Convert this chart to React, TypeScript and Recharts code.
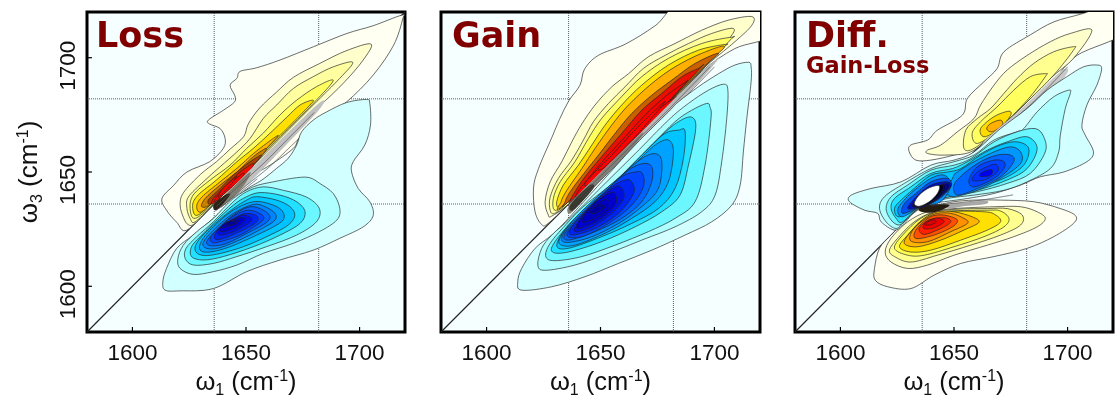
import { ScatterChart, Scatter, XAxis, YAxis, ReferenceLine, ReferenceArea } from 'recharts';

type Contour = number[][];

// contours are [w1, w3] vertices in cm-1, outermost level first
const lossWarm: Contour[] = [
  [[1718.5,1718.6],[1706,1714],[1694.4,1710.6],[1679.7,1704.8],[1665,1699],[1654.7,1695.6],[1647.4,1694],[1646,1691],[1643,1688],[1645,1683.6],[1645,1680.7],[1640,1677],[1633.4,1672.7],[1634,1671],[1638.6,1669],[1640.8,1664.7],[1640,1660.3],[1634,1654.5],[1624,1650],[1618,1644],[1613,1638.4],[1615,1633.3],[1619.5,1628],[1624,1624.6],[1635.6,1636],[1650.3,1647],[1660.6,1653],[1670.8,1660.3],[1673.8,1665.4],[1682.6,1672.7],[1694.3,1680.7],[1706,1692.4],[1715,1705.5],[1719,1717]],
  [[1705,1706],[1694,1703],[1682.5,1697.5],[1671,1691.5],[1663.5,1685],[1656,1678],[1651,1671],[1649,1665.5],[1643,1660],[1637,1654.5],[1630,1649],[1622.5,1641],[1621,1635.5],[1622.5,1630],[1624.5,1627],[1627.5,1627.5],[1635.5,1635.5],[1646,1644],[1654.7,1653],[1665,1663],[1674,1672],[1682.5,1679],[1693,1689],[1701.6,1699]],
  [[1697,1698],[1688.4,1696],[1679.6,1691.7],[1670.8,1686.5],[1663.5,1679.3],[1657.6,1673.4],[1651.8,1664.7],[1646,1658.8],[1638.6,1652.3],[1631.2,1645.7],[1624.6,1639],[1624,1634],[1625.4,1629.7],[1627.6,1628.2],[1635.6,1635.8],[1650.3,1650],[1665,1664.7],[1679.6,1679.3],[1691.3,1691]],
  [[1688.4,1690],[1681,1687.3],[1672.3,1681.4],[1665,1675],[1657.6,1667],[1650.3,1660.3],[1643,1653],[1634.2,1646.5],[1626.8,1640],[1625.4,1634],[1627.6,1629.7],[1635.6,1636.2],[1650.3,1650.8],[1665,1665.4],[1679.6,1680]],
  [[1679.6,1681.4],[1673.8,1679.3],[1668,1674],[1660.6,1667],[1653.2,1660.3],[1646,1654.5],[1637,1646.5],[1629,1640],[1626.5,1635.5],[1628.3,1631],[1635.6,1637],[1650.3,1651.6],[1665,1666],[1676.7,1677.8]],
  [[1664.2,1666],[1659,1662.5],[1653.2,1658],[1646,1651.6],[1638.6,1645.7],[1630.5,1639],[1628.3,1634.8],[1630.5,1632.6],[1638.6,1640],[1650.3,1651.6],[1659,1660.3]],
  [[1659,1660.3],[1653.2,1656.7],[1646,1650],[1638.6,1644.3],[1632,1638.4],[1630.5,1634.8],[1635,1636.2],[1646,1647.2],[1654.7,1654.5]],
  [[1656.9,1657.4],[1651.8,1654.5],[1644.4,1648.6],[1638.6,1642.8],[1633.4,1637.7],[1635,1636.2],[1643,1643.5],[1651.8,1651.6]],
  [[1653.2,1653.7],[1647.4,1650],[1641.5,1644.3],[1635.6,1638.4],[1635.6,1636.2],[1643,1642.8],[1651.8,1650.8]],
  [[1648.8,1649.4],[1643,1645],[1637,1639],[1636.4,1637],[1641.5,1641.4],[1648,1647.2]],
  [[1646,1648],[1640,1643],[1637.8,1639],[1642,1643]],
];

const lossCold: Contour[] = [
  [[1704.5,1680],[1703,1681.7],[1694.3,1680.4],[1685.5,1676.3],[1679.6,1672.7],[1674.5,1667.6],[1672.3,1661.8],[1668.6,1656],[1663.5,1651.6],[1657,1646.5],[1648.8,1641.4],[1635.6,1629.7],[1626.8,1622.4],[1619.5,1616.6],[1615,1607.8],[1613.4,1602],[1614.4,1598.3],[1621,1598],[1635.6,1599],[1650.3,1606.4],[1665,1611.5],[1679.6,1615.8],[1691.3,1621],[1701.6,1626],[1706,1631],[1704.5,1637],[1699.4,1642.8],[1696.5,1650],[1697.2,1654.5],[1702.3,1661.8],[1704.8,1670.5]],
  [[1672.3,1647.5],[1678,1647.5],[1682.5,1645],[1688.4,1640.6],[1691.3,1634],[1690,1629],[1682.5,1624],[1670.8,1618.8],[1657.6,1614.4],[1646,1609.3],[1635.6,1606.4],[1626.8,1605.2],[1621,1607.8],[1620,1612],[1622.4,1618],[1628.3,1623.9],[1635.6,1629.7],[1644.4,1638.4],[1653.2,1643.5],[1662,1645.7]],
  [[1657.6,1643.5],[1666.4,1642],[1676.7,1639],[1682.3,1634],[1681,1628.2],[1672.3,1622.4],[1659,1617.3],[1646,1613],[1635.6,1610],[1626.8,1609.3],[1623.2,1612.2],[1623.6,1616.6],[1628.3,1621.7],[1635.6,1628.2],[1644.4,1637],[1650.3,1641.4]],
  [[1656.2,1641],[1665,1639.9],[1672.3,1637],[1676,1632.6],[1673.8,1627.5],[1665,1622.4],[1653.2,1617.3],[1640,1613],[1631.2,1611.5],[1626,1613],[1626,1617.3],[1629.8,1621.7],[1635.6,1627.5],[1644.4,1635.5],[1650.3,1639.2]],
  [[1654.7,1639.2],[1663.5,1637.7],[1669.4,1634.8],[1671.5,1631],[1668.6,1626.8],[1660.6,1622.4],[1648.8,1617.3],[1637,1614],[1630.5,1613.6],[1627.6,1615.8],[1629,1620],[1635.6,1626.8],[1644.4,1634],[1650.3,1637.7]],
  [[1653.2,1637],[1660.6,1636],[1665.7,1633.3],[1666.7,1629.7],[1663.5,1626.8],[1654.7,1622.4],[1643,1617.3],[1634.2,1615],[1629.8,1615.8],[1630.5,1620],[1635.6,1626],[1644.4,1633.3]],
  [[1653.2,1635.8],[1658.4,1634.8],[1662.8,1631.9],[1662.8,1629],[1658.4,1626],[1648.8,1621],[1638.6,1616.9],[1632.7,1616.6],[1631.2,1619.2],[1636.4,1625.3],[1644.4,1631.9]],
  [[1651.8,1634.8],[1657.6,1633.3],[1660.6,1630.4],[1658.4,1627.5],[1651.8,1623.9],[1641.5,1618.8],[1634.9,1617.7],[1632.7,1619.5],[1637,1624.6],[1644.4,1631.2]],
  [[1651,1633.3],[1656,1631.9],[1657.9,1629.7],[1654.7,1626.8],[1647.4,1622.4],[1638.6,1619.5],[1634.9,1619.2],[1634.5,1621.7],[1638.6,1626],[1645.2,1631.2]],
  [[1650.3,1631.9],[1654.7,1630.8],[1654.7,1628.2],[1648.8,1624.6],[1640,1620.9],[1636.4,1620.6],[1636.4,1623.1],[1640,1626.8],[1645.9,1630.4]],
  [[1648.8,1631.2],[1652.5,1629.7],[1651,1627.5],[1644.4,1623.9],[1638.6,1622.4],[1637.4,1623.9],[1640,1626.8],[1645.2,1629.7]],
  [[1647.4,1630],[1649.6,1629],[1645.9,1626],[1640,1623.9],[1638.3,1625],[1641.5,1627.9]],
  [[1645.9,1629],[1646.6,1628.2],[1643,1626.5],[1639.3,1625.6],[1640,1627],[1643,1628.5]],
  [[1643.5,1628.5],[1646,1627.8],[1643.5,1626.8],[1640.8,1627.2]],
];

const lossBand: Contour[] = [
  [[1638,1637],[1660,1659],[1682,1680],[1682,1677],[1662,1656],[1648,1642],[1638,1634]],
  [[1637,1636],[1646,1645],[1652,1650],[1649,1644],[1642,1637],[1637,1633.5]],
  [[1636,1636],[1641,1640],[1643,1640],[1638,1634],[1636,1633.5]],
];
const lossGap: Contour[] = [
  [[1637,1635],[1648,1645],[1658,1654],[1668,1664],[1680,1676],[1668,1664],[1658,1654],[1648,1645]],
  [[1639,1634.5],[1650,1644],[1660,1652],[1670,1661.5],[1684,1674.5],[1670,1661.5],[1660,1652],[1650,1644]],
  [[1636.5,1633],[1646,1640],[1655,1647],[1646,1640]],
];

const gainWarm: Contour[] = [
  [[1688,1725],[1674,1714],[1661,1706],[1649,1701],[1643,1695],[1641,1688],[1636,1681],[1632,1673],[1628.6,1665],[1622.8,1651.5],[1620.6,1643],[1621.3,1632.5],[1624.2,1627],[1627,1627.5],[1636,1636],[1650.5,1650.4],[1665.2,1664.7],[1679.8,1679],[1694.4,1694],[1709,1704],[1725,1710],[1725,1725]],
  [[1716.4,1718],[1706,1716.4],[1694.4,1712],[1682.7,1706.2],[1671,1700.4],[1662.3,1693],[1655,1687.3],[1647.6,1679.3],[1641.8,1671],[1637.4,1663.2],[1633,1654.5],[1627.9,1645.7],[1625.7,1637],[1627.1,1631.2],[1628.6,1630.7],[1635.9,1636],[1650.5,1650.4],[1665.2,1664.7],[1679.8,1679],[1694.4,1694.6],[1709,1707],[1716.4,1714.2]],
  [[1708.3,1712.8],[1698.8,1710.6],[1688.6,1706.2],[1678.3,1701],[1668.8,1695.3],[1660.8,1687.3],[1653.5,1680],[1646.9,1672],[1642.5,1664],[1637.4,1655.2],[1631.5,1647.2],[1627.9,1639],[1627.9,1633.3],[1629.8,1631.9],[1635.9,1636],[1650.5,1650.5],[1665.2,1665],[1679.8,1679.3],[1694.4,1694.6],[1706,1707.7]],
  [[1707.6,1709],[1694.4,1706.2],[1679.8,1699.7],[1668.1,1691.7],[1659.3,1683],[1650.5,1673.4],[1644.7,1664.7],[1638.8,1654.5],[1632.3,1645.7],[1629.3,1638.4],[1630,1633.3],[1635.9,1637],[1665.2,1665.4],[1694.4,1694.6],[1706.9,1707.7]],
  [[1704.7,1705.8],[1693,1703.3],[1679.8,1696.8],[1668.1,1688],[1659.3,1679.3],[1652,1670.5],[1646.2,1661.8],[1640.3,1653],[1633.7,1644.3],[1630.8,1637],[1631.8,1634.4],[1635.9,1637],[1665.2,1665.4],[1694.4,1695.3],[1704.4,1704.8]],
  [[1704.4,1704.8],[1694.4,1701.9],[1682.7,1696],[1672.5,1688.7],[1662.3,1679.3],[1654.9,1670.5],[1647.6,1660.3],[1641.8,1651.5],[1635.2,1642],[1632.7,1637],[1633.7,1635.5],[1665.2,1666],[1694.4,1695.3]],
  [[1701.8,1701.9],[1691.5,1697.5],[1681.3,1690.2],[1672.5,1683.6],[1663.7,1675.6],[1656.4,1666.9],[1649.1,1657.4],[1643.2,1650],[1636.7,1641.4],[1634.5,1637],[1635.9,1637],[1665.2,1665.8],[1694.4,1695]],
  [[1693,1695.3],[1685.7,1691.7],[1676.9,1684.4],[1668.1,1677],[1659.3,1666.9],[1650.5,1656.7],[1643.2,1647.9],[1637.4,1639],[1638.8,1639],[1665.2,1665.4],[1693,1694.6]],
  [[1686.4,1688.7],[1678.3,1682.9],[1669.6,1674.9],[1660.8,1665.4],[1652,1655.9],[1644.7,1647.2],[1639.6,1640.6],[1641.8,1641.4],[1665.2,1665],[1686.4,1688]],
  [[1682,1682.2],[1674,1676.3],[1665.2,1668.3],[1656.4,1658.8],[1647.6,1650],[1643.2,1645],[1646.2,1645.7],[1665.2,1664.7],[1682,1681.4]],
  [[1678.3,1680.7],[1671,1674.2],[1663.7,1666.9],[1655,1657.4],[1649.1,1651.5],[1652,1652.3],[1665.2,1665.4]],
];

const gainCold: Contour[] = [
  [[1715,1698],[1709,1696.8],[1701.8,1693],[1693,1687.3],[1684.2,1680.7],[1679.8,1676.3],[1665.2,1661.8],[1650.5,1645.7],[1635.9,1629.7],[1628.6,1622.4],[1621.3,1616.6],[1615.4,1607.8],[1613.7,1602],[1615.4,1598.3],[1628.6,1599.8],[1643.2,1604.2],[1657.9,1610],[1672.5,1615.8],[1687.1,1622.4],[1698.8,1628.2],[1707.6,1635.5],[1711.3,1644.3],[1712.7,1658.8],[1714.2,1673.4],[1716.1,1689.5],[1716.1,1696]],
  [[1704,1688.4],[1697.4,1685.8],[1688.6,1680],[1679.8,1672.7],[1665.2,1658],[1650.5,1643.5],[1635.9,1629],[1628.6,1622.4],[1624.2,1616.6],[1622.5,1609.3],[1625.7,1607],[1638.8,1609.3],[1653.5,1614.4],[1668.1,1620.2],[1682.7,1626],[1694.4,1632.6],[1700.3,1639.9],[1703.2,1654.5],[1705.4,1673.4],[1705.9,1685.8]],
  [[1696.6,1680],[1690,1677],[1682.7,1672],[1672.5,1661.8],[1657.9,1647.2],[1643.2,1635.5],[1635.9,1628.2],[1627.9,1618.8],[1626,1613],[1630,1611.2],[1641.8,1613],[1656.4,1618],[1671,1623.9],[1682.7,1629.7],[1691.5,1637],[1695.9,1653],[1698.5,1673.4],[1698,1678.5]],
  [[1690,1674],[1684.2,1672],[1676.9,1666.1],[1665.2,1654.5],[1650.5,1639.9],[1638.8,1629.7],[1630,1619.5],[1628.9,1615],[1635.9,1615],[1650.5,1619.5],[1665.2,1626],[1676.9,1632.6],[1684.9,1639.9],[1688.6,1653],[1691.8,1669]],
  [[1684.2,1668.3],[1678.3,1666.9],[1671,1660.3],[1659.3,1648.6],[1646.2,1635.5],[1635.9,1626.8],[1630.8,1618],[1635.9,1616.6],[1650.5,1621.7],[1663.7,1627.5],[1675.4,1634],[1682.7,1642.8],[1686.4,1656],[1687.1,1667.9]],
  [[1679.8,1664],[1674,1661.8],[1665.2,1653.7],[1653.5,1643],[1641.8,1632.6],[1633,1622.4],[1632.3,1618.3],[1638.8,1618],[1652,1623.2],[1663.7,1629.7],[1673.9,1637],[1679.8,1645.7],[1682,1658.8]],
  [[1674,1658],[1668.1,1655.9],[1659.3,1648.6],[1647.6,1638.4],[1637.4,1628.2],[1633,1621],[1635.9,1619.2],[1646.2,1621.7],[1657.9,1627.5],[1668.1,1634.8],[1675.4,1642.8],[1676.9,1654.5]],
  [[1668.8,1653.7],[1662.3,1650.8],[1652,1641.4],[1641.8,1631.9],[1634.5,1623.2],[1635.9,1620.2],[1647.6,1623.9],[1659.3,1629.7],[1668.1,1637],[1672.5,1645.7],[1672.5,1652.3]],
  [[1665.2,1650],[1659.3,1647.9],[1650.5,1639.9],[1640.3,1629.7],[1635.2,1622.4],[1641.8,1621.7],[1653.5,1627.5],[1663.7,1635.5],[1668.8,1643.5],[1668.4,1649.4]],
  [[1660.8,1646.5],[1654.9,1643.5],[1646.2,1635.5],[1637.4,1626],[1637.4,1622.4],[1647.6,1625.3],[1657.9,1631.9],[1664.5,1640.6],[1663.7,1645.7]],
  [[1656.4,1643.5],[1649.1,1637.7],[1640.3,1628.2],[1638.8,1623.9],[1646.2,1626],[1654.9,1631.9],[1660.1,1638.4],[1659.3,1642.8]],
  [[1653.5,1640.6],[1646.2,1635.5],[1640.3,1628.2],[1640.3,1625.3],[1649.1,1629],[1656.4,1635.5],[1656.4,1640.6]],
  [[1651.3,1637.7],[1644.7,1633.3],[1641.8,1628.2],[1647.6,1629.7],[1653.5,1634],[1653.5,1637.7]],
  [[1649.1,1635.5],[1645.4,1632.6],[1647.6,1631.9],[1652,1634.8]],
];

const gainBand: Contour[] = [
  [[1638,1637.5],[1665,1664.5],[1690,1689.5],[1702,1700],[1690,1686],[1665,1661],[1645,1641],[1637,1633]],
  [[1637,1636.5],[1650,1649.5],[1668,1667],[1664,1660.5],[1648,1644],[1637,1632]],
  [[1637,1636],[1645,1644],[1647,1643],[1640,1635],[1637,1633]],
];
const gainGap: Contour[] = [
  [[1640,1638.2],[1660,1658],[1680,1677.5],[1698,1696],[1680,1677.5],[1660,1658]],
  [[1642,1638.6],[1660,1656],[1680,1675.5],[1700,1696],[1680,1675.5],[1660,1656]],
];

const diffWarmUpper: Contour[] = [
  [[1707,1719.4],[1694,1715.7],[1683.6,1710],[1672,1702.6],[1669,1695.3],[1663.2,1689.5],[1655.9,1682.2],[1653.7,1674.9],[1642.7,1668.3],[1638.4,1664],[1631,1661.8],[1630.3,1658.8],[1633.2,1655.2],[1639.8,1655.2],[1650,1657.4],[1658.8,1660.3],[1667.6,1666.9],[1676.3,1673.4],[1685.1,1682.2],[1693.9,1690],[1704.1,1701],[1725,1711],[1725,1725]],
  [[1710.7,1712],[1701.2,1710.6],[1692.4,1707],[1682.2,1701],[1673.4,1694.6],[1667.6,1688],[1661.7,1679.3],[1658.8,1673.4],[1651.5,1667.6],[1644.2,1661.8],[1638.4,1659.6],[1638.4,1658.1],[1645.7,1657.4],[1657.4,1658.8],[1667.6,1666.9],[1679.3,1677.8],[1692.4,1690.9],[1702.6,1699.7]],
  [[1702.6,1704.8],[1693.9,1702.6],[1685.1,1697.5],[1677.8,1690.9],[1672,1684.4],[1666.1,1677.8],[1660.3,1673.4],[1655.2,1668.3],[1654.4,1660.3],[1658.8,1660.3],[1669,1668.3],[1682.2,1680.7],[1693.9,1692.4],[1702.6,1703.3]],
  [[1690.2,1693],[1683.6,1691.7],[1676.3,1685.8],[1669,1678.5],[1661.7,1672],[1658,1666.9],[1660.3,1662.5],[1669,1668.3],[1682.2,1681.4],[1690.2,1691.7]],
  [[1674.2,1676.6],[1667.6,1674.2],[1661.7,1669],[1663.2,1665.4],[1669,1668.3],[1674.6,1674.2]],
  [[1670.5,1672.7],[1666.1,1671.2],[1664.4,1668.8],[1666.9,1667.6],[1671.2,1670.5]],
];

const diffWarmLower: Contour[] = [
  [[1658.8,1637.7],[1670.5,1637.7],[1685.1,1637],[1696.8,1634],[1703.4,1631],[1702.6,1627.5],[1693.9,1621.7],[1682.2,1616.6],[1667.6,1613],[1653,1610],[1641.3,1604.9],[1631,1599],[1620.8,1599.8],[1615.3,1602.7],[1615,1607.8],[1617.2,1616.6],[1622.3,1622.4],[1629.6,1629.7],[1635.4,1634],[1642.7,1635.5],[1650,1637]],
  [[1667.6,1634.8],[1679.3,1634.8],[1686.6,1632.6],[1690.2,1629.7],[1686.6,1626],[1676.3,1621.7],[1664.7,1618],[1650,1613.6],[1638.4,1609.3],[1629.6,1607.8],[1622.3,1610.6],[1619.7,1615],[1622.3,1621],[1629.6,1628.2],[1638.4,1632.6],[1650,1634]],
  [[1664.7,1634],[1673.4,1634],[1680,1631.2],[1679.3,1626.8],[1670.5,1622.4],[1657.4,1618],[1642.7,1613.6],[1631,1610.6],[1623.8,1613],[1621.6,1615.8],[1625.2,1621],[1632.5,1628.2],[1641.3,1632.6],[1653,1633.8]],
  [[1664.7,1633.3],[1670.5,1632.9],[1674.2,1629.7],[1672,1626],[1663.2,1621.7],[1650,1617.3],[1636.9,1613.6],[1629.6,1613.6],[1623.8,1616.6],[1627.4,1622.4],[1635.4,1629.7],[1644.2,1632.6]],
  [[1663.2,1632.6],[1668.3,1631.2],[1670.5,1628.2],[1664.7,1624.6],[1653,1620.2],[1639.8,1615.8],[1631,1615],[1626,1617.3],[1629.6,1622.4],[1636.9,1629.7],[1645.7,1632.6]],
  [[1650,1632.6],[1658,1630.4],[1661,1628],[1654.4,1624.6],[1644.2,1620.2],[1634,1617.3],[1628.1,1618.8],[1631,1623.9],[1636.9,1629.7],[1642.7,1632.6]],
  [[1648.6,1631.9],[1654.4,1629.7],[1655.9,1627.5],[1648.6,1623.9],[1638.4,1619.5],[1631,1619.8],[1631.8,1624.6],[1637.6,1629.7],[1642.7,1631.9]],
  [[1647.1,1630.9],[1651.5,1629],[1649.3,1626],[1641.3,1622.4],[1633.2,1620.9],[1633.2,1624.6],[1638.4,1629.7],[1642.7,1631.2]],
  [[1645.7,1630],[1648.6,1628.2],[1644.2,1625.3],[1636.9,1622.7],[1634.7,1625.3],[1639.1,1629]],
  [[1643.5,1629.7],[1645.7,1628.2],[1641.3,1625.6],[1636.6,1625.3],[1637.6,1628.2],[1641.3,1629.7]],
  [[1641.3,1629],[1642,1627.9],[1639.1,1626.8],[1637.2,1627],[1639.1,1628.5]],
];

const diffCold: Contour[] = [
  [[1712.9,1696.8],[1707,1696],[1699.7,1691.7],[1691,1685.8],[1682.2,1677.8],[1670.5,1669],[1658.8,1658.8],[1650,1655.2],[1639.8,1653],[1626.7,1645.7],[1613.5,1642.8],[1604.8,1639.9],[1604,1637],[1610.6,1633.3],[1616.4,1631.9],[1617.9,1628.2],[1623.8,1624.6],[1628.1,1627.5],[1635.4,1635.5],[1645.7,1637],[1655.9,1638.4],[1667.6,1640.6],[1679.3,1644.3],[1688,1647.9],[1698.3,1650],[1708.5,1654.5],[1711.4,1658.8],[1707.8,1666.1],[1706.3,1670.5],[1708.5,1679.3],[1712.9,1688],[1715,1695.3]],
  [[1700.5,1685.8],[1693.9,1682.9],[1686.6,1676.3],[1680.7,1669],[1677.8,1667.6],[1667.6,1664],[1658.8,1657.4],[1650,1654.5],[1639.8,1651.5],[1628.1,1645],[1619.4,1639.2],[1617.2,1634],[1620.1,1628.2],[1624.5,1625.3],[1628.1,1628.2],[1635.4,1634.8],[1647.1,1638.4],[1658.8,1639.9],[1672,1642],[1682.2,1645.7],[1692.4,1651.5],[1696.1,1658.8],[1696.8,1666.1],[1699,1677.8],[1701.2,1684.4]],
  [[1685.8,1669],[1677.8,1667.6],[1667.6,1663.2],[1657.4,1655.9],[1650,1653],[1639.8,1650.8],[1629.6,1644.3],[1622.3,1639.2],[1620.1,1634],[1622.3,1629],[1625.9,1626.8],[1629.6,1629.7],[1635.4,1634.8],[1647.1,1639],[1660.3,1641.4],[1673.4,1645],[1683.6,1649.4],[1690.2,1658.8],[1689.5,1665.4]],
  [[1682.2,1665.4],[1673.4,1663.2],[1664.7,1659.6],[1655.9,1654.5],[1649.3,1651.5],[1639.8,1649.4],[1631,1643.5],[1623.8,1638.4],[1622.3,1634],[1624.5,1629.7],[1627.4,1628.2],[1635.4,1635.5],[1647.1,1639],[1660.3,1642],[1673.4,1646.5],[1682.2,1651.5],[1686.6,1660.3]],
  [[1677.8,1663.2],[1670.5,1661.8],[1661.7,1657.4],[1653,1651.5],[1647.1,1650],[1639.8,1648.6],[1632.5,1642.8],[1626.7,1637.7],[1623.8,1634],[1626,1630.4],[1635.4,1635.5],[1647.1,1639.9],[1660.3,1643.5],[1672,1647.2],[1680.7,1653],[1682.9,1660.3]],
  [[1674.9,1661],[1667.6,1658.8],[1658.8,1654.5],[1651.5,1650],[1650,1648.6],[1647.1,1641.4],[1650,1639.2],[1660.3,1642],[1670.5,1647.2],[1679.3,1653.7],[1679.3,1658.8]],
  [[1669,1657.4],[1661.7,1654.5],[1654.4,1649.4],[1650,1644.3],[1651.5,1639.9],[1660.3,1642.8],[1670.5,1647.9],[1676.3,1654.5],[1674.9,1657.4]],
  [[1667.6,1655.2],[1660.3,1652.3],[1656.6,1646.5],[1658.8,1643.5],[1667.6,1647.2],[1672,1651.5],[1672,1654.5]],
  [[1666.1,1653],[1660.3,1650],[1658,1646.5],[1663.2,1646.5],[1669,1650],[1669,1653]],
  [[1664.7,1650.8],[1661.7,1649.4],[1661.7,1648],[1666.1,1648.6],[1666.9,1650.8]],
];

const diffCore: Contour[] = [
  [[1645.7,1648.6],[1639.8,1647.2],[1632.5,1642],[1627.4,1637],[1625.2,1633.3],[1627.4,1630.4],[1635.4,1634.8],[1644.2,1637],[1648.6,1644.3]],
  [[1647.1,1647.2],[1639.8,1645.7],[1633.2,1640.6],[1628.1,1636.2],[1627.4,1631.9],[1635.4,1634.8],[1642.7,1637.7],[1648.6,1643.5]],
  [[1647.1,1645.7],[1639.8,1644.3],[1633.2,1639],[1629.6,1634],[1635.4,1634.8],[1642.7,1638.4],[1648.6,1643.5]],
  [[1646.4,1645],[1639.8,1642.8],[1633.2,1637.7],[1631.8,1634.8],[1636.9,1634.8],[1643.5,1638.7],[1647.9,1643.5]],
  [[1644.9,1644.3],[1639.1,1642],[1633.2,1637],[1632.5,1635],[1637.6,1635.5],[1643.5,1639],[1646.4,1643.2]],
  [[1644.2,1644.3],[1638.4,1642],[1633.2,1637.7],[1632.8,1635],[1638.4,1635.8],[1643.5,1639.9],[1645.4,1643.2]],
];
const diffHole: Contour[] = [
  [[1643.5,1644],[1639.1,1643.1],[1634.7,1639.9],[1632.5,1636.2],[1634.7,1635],[1639.1,1637],[1642.7,1640.6]],
];

const diffBand: Contour[] = [
  [[1663,1663],[1680,1678],[1697,1694],[1699,1692],[1682,1674],[1668,1662]],
  [[1646,1636],[1656,1636.8],[1664,1637.5],[1664,1636],[1654,1635],[1648,1634]],
  [[1635,1635],[1643,1636],[1648,1635.5],[1644,1633.2],[1639,1632.2],[1635,1632.8]],
];
const diffGap: Contour[] = [
  [[1664,1663],[1676,1672.5],[1689,1684.5],[1700,1696],[1689,1684.5],[1676,1672.5]],
  [[1666,1663],[1678,1671.5],[1690,1682.5],[1678,1671.5]],
  [[1640,1635.5],[1652,1636.5],[1664,1638],[1676,1640],[1664,1638],[1652,1636.5]],
];

const warmLevels = ['#fffff2', '#ffffcc', '#ffffa0', '#ffff60', '#ffe000', '#ffb400', '#c88000', '#a84000', '#e81000', '#ff0000', '#ff0000'];
const coldLevels = ['#d2ffff', '#aeffff', '#6cf6ff', '#22e0ff', '#00c4ff', '#00a2ff', '#0084ff', '#0064ff', '#0044ff', '#0024f0', '#0010e0', '#0000d0', '#0000c0', '#0000a0'];
const gainWarmLevels = ['#fffff2', '#ffffcc', '#ffffa0', '#ffff60', '#ffe000', '#ffb000', '#c86000', '#e81000', '#ff0000', '#ff0000', '#ff0000'];
const upperLevels = ['#fffff2', '#ffffcc', '#ffff90', '#ffff60', '#ffdc00', '#ffb000'];
const lowerLevels = ['#fffff2', '#ffffcc', '#ffff90', '#ffff50', '#ffe000', '#ffb400', '#ff9000', '#ff5000', '#ff2000', '#f00000', '#e00000'];
const midColdLevels = ['#d2ffff', '#aeffff', '#6cf6ff', '#22e0ff', '#00c4ff', '#0098ff', '#0064ff', '#0044ff', '#0030ff', '#0000f0'];
const coreLevels = ['#0090ff', '#0050f0', '#0010c0', '#000090', '#000060', '#000020'];
const lossBandLevels = ['#c0c0c0', '#807c70', '#282418'];
const gainBandLevels = ['#b8b8b8', '#80807a', '#383830'];
const diffBandLevels = ['#c8c8c8', '#a8a8a8', '#241c10'];
const gapLevels = ['none', 'none', 'none'];

const ticks = [1600, 1650, 1700];
const guides = [1636, 1682];
const domain = [1580, 1720];

// closed Catmull-Rom through the scaled vertices, so the contours keep their size
function closedPath(points: { x: number; y: number }[]) {
  const n = points.length;
  let d = `M${points[0].x},${points[0].y}`;
  for (let i = 0; i < n; i++) {
    const p0 = points[(i + n - 1) % n];
    const p1 = points[i];
    const p2 = points[(i + 1) % n];
    const p3 = points[(i + 2) % n];
    const c1x = p1.x + (p2.x - p0.x) / 6;
    const c1y = p1.y + (p2.y - p0.y) / 6;
    const c2x = p2.x - (p3.x - p1.x) / 6;
    const c2y = p2.y - (p3.y - p1.y) / 6;
    d += `C${c1x},${c1y} ${c2x},${c2y} ${p2.x},${p2.y}`;
  }
  return d + 'Z';
}

interface Layer { contours: Contour[]; colors: string[]; plain?: boolean }
interface PanelProps { left: number; plotLeft: number; width: number; layers: Layer[]; showY?: boolean }

function Panel({ left, plotLeft, width, layers, showY }: PanelProps) {
  const series = layers.flatMap((l) => l.contours.map((c, i) => ({ pts: c.map(([x, y]) => ({ x, y })), fill: l.colors[i], plain: l.plain })));
  const tickFont = { fontSize: 22.5, fill: '#111', fontFamily: 'Liberation Sans' };
  return (
    <div style={{ position: 'absolute', left, top: 0 }}>
      <ScatterChart width={plotLeft + width + 6} height={400} margin={{ top: 12, right: 6, bottom: 0, left: 0 }}>
        <XAxis xAxisId="b" type="number" dataKey="x" domain={domain} ticks={ticks} allowDataOverflow height={68} tickSize={-5} tickMargin={17}
          tick={tickFont} axisLine={false} tickLine={{ stroke: '#000', strokeWidth: 1.2 }}
          label={{ content: () => <XTitle x={plotLeft + width * 0.5} /> }} />
        <XAxis xAxisId="t" orientation="top" type="number" dataKey="x" domain={domain} ticks={ticks} allowDataOverflow height={0} tickSize={-5} tick={false} axisLine={false} tickLine={{ stroke: '#000', strokeWidth: 1.2 }} />
        <YAxis yAxisId="l" type="number" dataKey="y" domain={domain} ticks={ticks} allowDataOverflow width={plotLeft} tickSize={-5} tickMargin={25}
          tick={showY ? { ...tickFont, angle: -90, textAnchor: 'middle', dy: 8 } as any : false}
          axisLine={false} tickLine={{ stroke: '#000', strokeWidth: 1.2 }}
          label={showY ? { content: () => <YTitle /> } : undefined} />
        <YAxis yAxisId="r" orientation="right" type="number" dataKey="y" domain={domain} ticks={ticks} allowDataOverflow width={0} tickSize={-5} tick={false} axisLine={false} tickLine={{ stroke: '#000', strokeWidth: 1.2 }} />
        <ReferenceArea xAxisId="b" yAxisId="l" x1={1580} x2={1720} y1={1580} y2={1720} fill="#f6ffff" fillOpacity={1} stroke="none" />
        {series.map((s, i) => (
          <Scatter key={i} xAxisId="b" yAxisId="l" data={s.pts} isAnimationActive={false} shape={() => <g />}
            line={(p: any) => (
              <path key="c" d={closedPath(p.points)} fill={s.fill} stroke={s.plain ? 'none' : s.fill === 'none' ? '#555' : '#222'}
                strokeWidth={s.fill === 'none' ? 0.6 : 0.95} strokeOpacity={0.7} />
            )} />
        ))}
        {guides.map((g) => <ReferenceLine key={'x' + g} xAxisId="b" yAxisId="l" x={g} stroke="#333" strokeWidth={0.8} strokeDasharray="1 1" />)}
        {guides.map((g) => <ReferenceLine key={'y' + g} xAxisId="b" yAxisId="l" y={g} stroke="#333" strokeWidth={0.8} strokeDasharray="1 1" />)}
        <ReferenceLine xAxisId="b" yAxisId="l" segment={[{ x: 1580, y: 1580 }, { x: 1720, y: 1720 }]} stroke="#222" strokeWidth={1.2} />
        <ReferenceArea xAxisId="b" yAxisId="l" x1={1580} x2={1720} y1={1580} y2={1720} fill="none" stroke="#000" strokeWidth={3} />
      </ScatterChart>
    </div>
  );
}

function XTitle({ x }: { x: number }) {
  return (
    <text x={x} y={390} textAnchor="middle" fontSize={25.5} fontFamily="Liberation Sans" fill="#111">
      ω<tspan fontSize={16} dy={5}>1</tspan><tspan dy={-5}> (cm</tspan><tspan fontSize={16} dy={-9}>-1</tspan><tspan dy={9}>)</tspan>
    </text>
  );
}

function YTitle() {
  return (
    <text x={0} y={0} transform="translate(37 172) rotate(-90)" textAnchor="middle" fontSize={26} fontFamily="Liberation Sans" fill="#111">
      ω<tspan fontSize={16} dy={5}>3</tspan><tspan dy={-5}> (cm</tspan><tspan fontSize={16} dy={-9}>-1</tspan><tspan dy={9}>)</tspan>
    </text>
  );
}

const titleStyle = { position: 'absolute', fontFamily: 'DejaVu Sans', fontWeight: 700, color: '#800000', lineHeight: 1 } as const;

export default function App() {
  return (
    <div style={{ position: 'absolute', left: 0, top: 0, width: 1115, height: 400, background: '#fff', overflow: 'hidden', filter: 'blur(0.5px)' }}>
      <Panel left={0} plotLeft={87} width={318} showY layers={[
        { contours: lossWarm, colors: warmLevels },
        { contours: lossBand, colors: lossBandLevels, plain: true },
        { contours: lossGap, colors: gapLevels },
        { contours: lossCold, colors: coldLevels },
      ]} />
      <Panel left={354} plotLeft={87} width={319} layers={[
        { contours: gainWarm, colors: gainWarmLevels },
        { contours: gainBand, colors: gainBandLevels, plain: true },
        { contours: gainGap, colors: gapLevels },
        { contours: gainCold, colors: coldLevels },
      ]} />
      <Panel left={708} plotLeft={87} width={318} layers={[
        { contours: diffWarmUpper, colors: upperLevels },
        { contours: diffWarmLower, colors: lowerLevels },
        { contours: diffBand, colors: diffBandLevels, plain: true },
        { contours: diffGap, colors: gapLevels },
        { contours: diffCold, colors: midColdLevels },
        { contours: diffCore, colors: coreLevels },
        { contours: diffHole, colors: ['#ffffff'] },
      ]} />
      <div style={{ ...titleStyle, left: 96, top: 18, fontSize: 35 }}>Loss</div>
      <div style={{ ...titleStyle, left: 452, top: 18, fontSize: 35 }}>Gain</div>
      <div style={{ ...titleStyle, left: 806, top: 18, fontSize: 35 }}>Diff.</div>
      <div style={{ ...titleStyle, left: 806, top: 54, fontSize: 22.5 }}>Gain-Loss</div>
    </div>
  );
}
